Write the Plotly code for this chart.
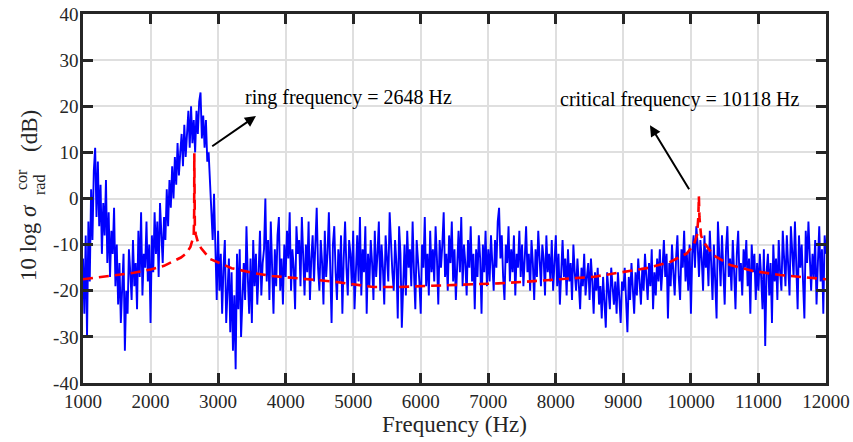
import plotly.graph_objects as go

# ---------------- data ----------------
freq_start = 1000
freq_step = 20
blue_db = [
    # 1000 - 1980
    -13, -25, -8, -30, -5,   -18, 2, -9, 6, 11,      -4, 8, -6, 3, -12,      -1, -8, 4, -14, -3,
    -17, -7, -12, -2, -19,   -10, -23, -14, -27, -18, -12, -33, -20, -25, -11, -16, -22, -9, -19, -14,
    -24, -7, -17, -3, -21,   -12, -15, -5, -18, -10,
    # 2000 - 2980
    -27, -8, -16, -3, -12,   -5, -17, -1, -10, -14,  -4, -9, 2, -6, 4,       -2, 7, 0, 9, 3,
    12, 5, 10, 14, 7,        16, 9, 13, 19, 11,      20, 12, 17, 10, 19,     14, 21, 23, 13, 18,
    11, 17, 8, 10, 4,        -2, -9, 1, -14, -22,
    # 3000 - 3980
    -7, -20, -12, -25, -15,  -9, -27, -18, -13, -29, -16, -33, -21, -37, -12, -24, -11, -30, -19, -14,
    -22, -6, -17, -25, -13,  -27, -9, -19, -12, -23, -16, -7, -21, -14, -11, 0, -18, -9, -22, -5,
    -15, -25, -11, -19, -8,  -4, -20, -13, -23, -10,
    # 4000 - 4980
    -17, -7, -13, -3, -20,   -11, -15, -24, -6, -12, -9, -19, -4, -14, -21,  -10, -16, -5, -22, -13,
    -8, -18, -11, -2, -15,   -20, -9, -14, -23, -7,  -17, -12, -3, -19, -27,  -10, -6, -16, -22, -11,
    -18, -8, -25, -13, -5,   -15, -21, -9, -12, -19,
    # 5000 - 5980
    -7, -24, -14, -8, -18,   -4, -21, -11, -16, -6,  -25, -12, -19, -9, -14, -22, -7, -17, -12, -5,
    -20, -10, -15, -23, -8,  -13, -18, -3, -11, -16, -20, -9, -14, -26, -6,  -12, -28, -17, -10, -21,
    -7, -15, -11, -19, -5,   -16, -24, -9, -13, -18,
    # 6000 - 6980
    -25, -10, -15, -4, -19,  -12, -21, -7, -16, -11, -18, -6, -13, -23, -9,  -15, -10, -3, -17, -12,
    -20, -8, -14, -5, -18,   -11, -22, -13, -7, -16, -4, -19, -10, -14, -21,  -9, -15, -6, -18, -12,
    -24, -11, -17, -8, -13,  -25, -10, -16, -7, -19,
    # 7000 - 7980
    -11, -18, -8, -14, -20,  -9, -15, -5, -2, -13,   -8, -17, -22, -10, -14,  -6, -18, -11, -16, -8,
    -21, -12, -15, -7, -17,  -10, -19, -13, -6, -16, -12, -20, -9, -14, -22,  -11, -17, -7, -15, -19,
    -10, -13, -21, -8, -16,  -12, -18, -9, -20, -14,
    # 8000 - 8980
    -8, -19, -12, -23, -15,  -9, -17, -13, -21, -11, -18, -14, -22, -10, -16, -20, -13, -18, -24, -15,
    -19, -12, -21, -17, -14, -22, -13, -18, -25, -16, -20, -15, -23, -19, -26, -17, -22, -28, -16, -20,
    -24, -15, -19, -23, -18, -25, -16, -21, -27, -18,
    # 9000 - 9980
    -20, -15, -24, -29, -17, -22, -14, -19, -25, -16, -21, -13, -18, -23, -15, -20, -12, -17, -22, -14,
    -19, -11, -24, -16, -21, -13, -18, -11, -20, -15, -9, -17, -12, -26, -14,  -19, -10, -16, -21, -13,
    -8, -17, -22, -11, -15,  -7, -18, -12, -20, -10,
    # 10000 - 10980
    -25, -12, -8, -15, -6,   -10, -17, -9, -13, -20, -8, -15, -11, -19, -7,   -14, -22, -10, -17, -26,
    -5, -13, -19, -8, -15,   -23, -11, -6, -17, -13, -20, -9, -16, -24, -12,  -7, -18, -14, -21, -11,
    -15, -9, -19, -13, -25,  -10, -16, -12, -22, -14,
    # 11000 - 12000
    -20, -12, -17, -24, -11, -32, -16, -12, -21, -14, -27, -10, -18, -13, -22, -9, -16, -20, -7, -14,
    -19, -8, -15, -21, -6,   -12, -17, -5, -13, -24, -8, -15, -10, -19, -26,  -7, -14, -5, -11, -20,
    -12, -17, -9, -23, -14,  -6, -18, -11, -25, -8,
    -12,
]
blue_freq = [freq_start + i * freq_step for i in range(len(blue_db))]

red_freq = [1000, 1250, 1500, 1750, 2000, 2200, 2350, 2450, 2530, 2590, 2625, 2640, 2646, 2648,
            2650, 2656, 2670, 2700, 2750, 2880, 3200, 3500, 3800, 4100, 4400, 4700, 5000, 5300,
            5650, 6050, 6400, 6800, 7150, 7500, 7850, 8250, 8550, 9000, 9350, 9700, 9940, 10040,
            10090, 10110, 10118, 10126, 10150, 10180, 10250, 10330, 10580, 10920, 11320, 11800, 12000]
red_db = [-17.5, -17.1, -16.6, -16.1, -15.4, -14.6, -13.6, -12.8, -11.9, -10.5, -8.8, -7.6, -3.0, 9.8,
          -3.0, -6.5, -7.8, -9.4, -10.8, -13.1, -15.1, -16.1, -16.8, -17.2, -17.7, -18.0, -18.6, -19.2,
          -19.2, -19.0, -18.8, -18.6, -18.4, -18.1, -17.8, -17.3, -17.0, -16.0, -15.1, -13.7, -11.9, -10.1,
          -8.0, -4.0, 0.5, -4.0, -8.0, -9.2, -10.6, -12.3, -14.4, -15.7, -16.6, -17.3, -17.5]

x_ticks = [1000, 2000, 3000, 4000, 5000, 6000, 7000, 8000, 9000, 10000, 11000, 12000]
y_ticks = [-40, -30, -20, -10, 0, 10, 20, 30, 40]

ring_label = "ring frequency = 2648 Hz"
crit_label = "critical frequency = 10118 Hz"

# ---------------- figure ----------------
FONT = "Liberation Serif, Times New Roman, serif"
AX = "#262626"

fig = go.Figure()
fig.add_trace(go.Scatter(x=blue_freq, y=blue_db, mode="lines",
                         line=dict(color="#0000ff", width=1.9), showlegend=False))
fig.add_trace(go.Scatter(x=red_freq, y=red_db, mode="lines",
                         line=dict(color="#ff0000", width=2.6, dash="10px,6px"), showlegend=False))

W, H = 853, 442
L, R, T, B = 83, 27, 14, 59
pw, ph = W - L - R, H - T - B


def px(xp):
    return (xp - L) / pw


def py(yp):
    return (H - B - yp) / ph


axis_common = dict(
    showgrid=True, gridcolor="#dfdfdf", gridwidth=2,
    showline=True, linecolor=AX, linewidth=2.5, mirror="ticks",
    ticks="inside", ticklen=10, tickwidth=2.5, tickcolor=AX,
    zeroline=False, automargin=False,
    tickfont=dict(family=FONT, size=19, color=AX),
)

fig.update_layout(
    width=W, height=H,
    margin=dict(l=L, r=R, t=T, b=B),
    plot_bgcolor="white", paper_bgcolor="white",
    font=dict(family=FONT, color=AX),
    xaxis=dict(range=[1000, 12000], tickvals=x_ticks, ticktext=[str(v) for v in x_ticks],
               ticklabelstandoff=-1,
               title=dict(text="Frequency (Hz)", font=dict(family=FONT, size=23, color=AX), standoff=5),
               **axis_common),
    yaxis=dict(range=[-40, 40], tickvals=y_ticks, ticktext=[str(v) for v in y_ticks],
               ticklabelstandoff=-2,
               **axis_common),
)

ann = []
# y-axis title pieces
ann.append(dict(xref="paper", yref="paper", x=px(29), y=py(243), text="10 log <i>σ</i>",
                textangle=-90, showarrow=False, xanchor="center", yanchor="middle",
                font=dict(family=FONT, size=23, color=AX)))
ann.append(dict(xref="paper", yref="paper", x=px(21), y=py(180), text="cor",
                textangle=-90, showarrow=False, xanchor="center", yanchor="middle",
                font=dict(family=FONT, size=16, color=AX)))
ann.append(dict(xref="paper", yref="paper", x=px(39), y=py(185), text="rad",
                textangle=-90, showarrow=False, xanchor="center", yanchor="middle",
                font=dict(family=FONT, size=16, color=AX)))
ann.append(dict(xref="paper", yref="paper", x=px(29), y=py(131), text="(dB)",
                textangle=-90, showarrow=False, xanchor="center", yanchor="middle",
                font=dict(family=FONT, size=23, color=AX)))
# arrows
ann.append(dict(x=3561, y=17.9, ax=2891, ay=11.1, axref="x", ayref="y", xref="x", yref="y",
                text="", showarrow=True, arrowhead=2, arrowsize=1.1, arrowwidth=2, arrowcolor="black"))
ann.append(dict(x=9394, y=15.9, ax=9987, ay=1.7, axref="x", ayref="y", xref="x", yref="y",
                text="", showarrow=True, arrowhead=2, arrowsize=1.1, arrowwidth=2, arrowcolor="black"))
# labels
ann.append(dict(x=3369, y=21.8, xref="x", yref="y", text=ring_label, showarrow=False,
                xanchor="left", yanchor="middle", font=dict(family=FONT, size=20, color="black")))
ann.append(dict(x=8032, y=21.4, xref="x", yref="y", text=crit_label, showarrow=False,
                xanchor="left", yanchor="middle", font=dict(family=FONT, size=20, color="black")))

fig.update_layout(annotations=ann)
fig.write_html("out.html", config={"displayModeBar": False},
               post_script="document.body.style.margin='0px';")
